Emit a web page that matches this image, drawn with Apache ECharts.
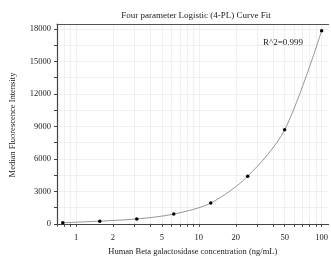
<!DOCTYPE html>
<html>
<head>
<meta charset="utf-8">
<script src="https://cdn.jsdelivr.net/npm/echarts@6/dist/echarts.min.js"></script>
<style>
    html, body { margin: 0; padding: 0; background: #fff; }
    #chart { width: 331px; height: 264px; }
</style>
</head>
<body>
<div id="chart"></div>
<script>
    // standard concentrations (ng/mL) and measured MFI
    const concentrations = [0.78, 1.56, 3.125, 6.25, 12.5, 25, 50, 100];
    const intensities = [100, 250, 450, 900, 1920, 4390, 8680, 17820];
    const xLabelValues = [1, 2, 5, 10, 20, 50, 100];
    const xTickValues = [0.8, 0.9, 1, 2, 3, 4, 5, 6, 7, 8, 9, 10, 20, 30, 40, 50, 60, 70, 80, 90, 100];
    const yLabelValues = [0, 3000, 6000, 9000, 12000, 15000, 18000];
    const yTickValues = [0, 1500, 3000, 4500, 6000, 7500, 9000, 10500, 12000, 13500, 15000, 16500, 18000];
    const rSquared = 'R^2=0.999';

    const font = 'Liberation Serif';
    const points = concentrations.map((c, i) => [c, intensities[i]]);

    let myChart = echarts.init(document.getElementById('chart'));
    myChart.setOption({
        animation: false,
        title: [
            {
                text: 'Four parameter Logistic (4-PL) Curve Fit',
                left: 191, top: 6, textAlign: 'center',
                textStyle: { fontFamily: font, fontSize: 9, fontWeight: 'normal', color: '#222' }
            },
            {
                text: rSquared,
                left: 258, top: 33,
                textStyle: { fontFamily: font, fontSize: 9, fontWeight: 'normal', color: '#222' }
            }
        ],
        grid: { left: 57, top: 24, right: 2, bottom: 38 },
        xAxis: [
            {
                type: 'log', logBase: 10, min: 0.7, max: 114,
                name: 'Human Beta galactosidase concentration (ng/mL)',
                nameLocation: 'middle', nameGap: 21,
                nameTextStyle: { fontFamily: font, fontSize: 8.5, color: '#222' },
                axisLine: { lineStyle: { color: '#444', width: 1.2 } },
                axisTick: { customValues: xTickValues, length: 3, lineStyle: { color: '#444' } },
                axisLabel: {
                    customValues: xLabelValues, fontFamily: font, fontSize: 8.5, color: '#222', margin: 7,
                    formatter: v => String(v)
                },
                splitLine: { show: true, lineStyle: { color: '#ececec', width: 0.8 } }
            },
            {
                type: 'log', logBase: 10, min: 0.7, max: 114, position: 'top',
                axisLine: { lineStyle: { color: '#555', width: 1.2 } },
                axisTick: { show: false }, axisLabel: { show: false }, splitLine: { show: false }
            }
        ],
        yAxis: {
            type: 'value', min: -200, max: 18450,
            name: 'Median Fluorescence Intensity',
            nameLocation: 'middle', nameGap: 40,
            nameTextStyle: { fontFamily: font, fontSize: 8.5, color: '#222' },
            axisLine: { show: true, lineStyle: { color: '#444', width: 1.2 } },
            axisTick: { customValues: yTickValues, length: 3, lineStyle: { color: '#444' } },
            axisLabel: {
                customValues: yLabelValues, fontFamily: font, fontSize: 8.5, color: '#222', margin: 6,
                formatter: v => String(v)
            },
            splitLine: { show: true, lineStyle: { color: '#ececec', width: 0.8 } }
        },
        series: [
            {
                type: 'line',
                data: points,
                smooth: 0.3,
                symbol: 'circle', symbolSize: 3.5,
                itemStyle: { color: '#000' },
                lineStyle: { color: '#8a8a8a', width: 0.9 }
            }
        ]
    });
</script>
</body>
</html>
